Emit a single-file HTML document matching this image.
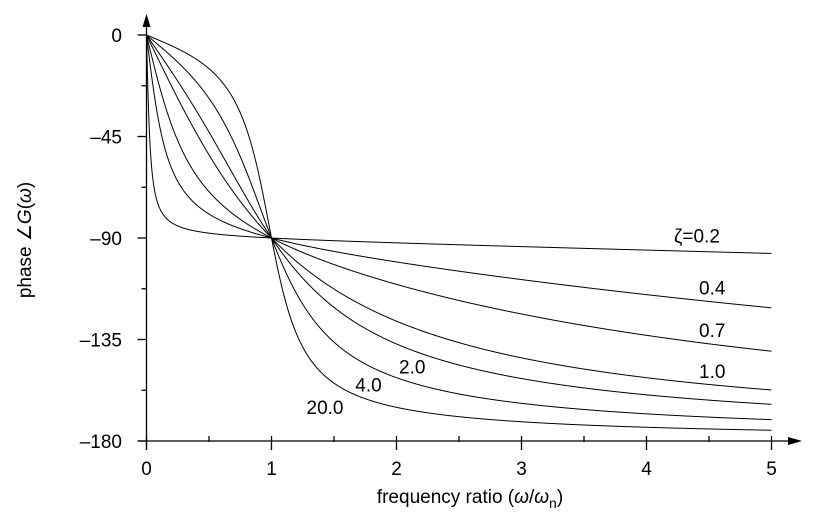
<!DOCTYPE html>
<html><head><meta charset="utf-8"><style>
body{margin:0;background:#fff}
svg text{font-family:"Liberation Sans",sans-serif;font-size:19px;fill:#000}
</style></head><body>
<svg id="chart" width="825" height="521" viewBox="0 0 825 521">
<g id="axes"></g>
<g id="curves"></g>
<g id="labels"></g>
<text x="470" y="503" text-anchor="middle">frequency ratio (<tspan font-style="italic">ω</tspan>/<tspan font-style="italic">ω</tspan><tspan font-size="14" dy="5">n</tspan><tspan dy="-5">)</tspan></text>
<text transform="translate(31,240) rotate(-90)" text-anchor="middle">phase ∠<tspan font-style="italic">G</tspan>(<tspan font-style="italic">ω</tspan>)</text>
</svg>
<script>
const zetas=[0.2,0.4,0.7,1.0,2.0,4.0,20.0];
const labelTexts=["ζ=0.2","0.4","0.7","1.0","2.0","4.0","20.0"];
const labelRatios=[4.22,4.42,4.42,4.42,2.02,1.67,1.28];
const labelPhases=[-92,-115,-134,-152,-150,-158,-168];
const xTicks=[0,1,2,3,4,5];
const yTicks=[0,-45,-90,-135,-180];
const NS="http://www.w3.org/2000/svg";
const X0=146.5,XS=125,Y0=35,YS=(441-35)/180;
const sx=v=>X0+v*XS, sy=v=>Y0-v*YS;
function el(t,a,p){const e=document.createElementNS(NS,t);for(const k in a)e.setAttribute(k,a[k]);p.appendChild(e);return e;}
const ax=document.getElementById('axes');
const xa=el('line',{x1:sx(0)-8,y1:sy(-180),x2:790,y2:sy(-180),stroke:'#000','stroke-width':1.3},ax);


const ya=el('line',{x1:sx(0),y1:450,x2:sx(0),y2:25,stroke:'#000','stroke-width':1.3},ax);


el('polygon',{points:`${sx(0)-4},27 ${sx(0)+4},27 ${sx(0)},14`,fill:'#000'},ax);
el('polygon',{points:`788,${sy(-180)-4} 788,${sy(-180)+4} 802,${sy(-180)}`,fill:'#000'},ax);
xTicks.forEach(v=>{
 el('line',{x1:sx(v),y1:sy(-180)-5,x2:sx(v),y2:sy(-180)+9,stroke:'#000','stroke-width':1.3},ax);
 if(v<5)el('line',{x1:sx(v+0.5),y1:sy(-180)-5,x2:sx(v+0.5),y2:sy(-180)+1,stroke:'#000','stroke-width':1.3},ax);
 const t=el('text',{x:sx(v),y:475,'text-anchor':'middle'},ax);t.textContent=v;
 
 
});
yTicks.forEach(v=>{
 el('line',{x1:sx(0)-9,y1:sy(v),x2:sx(0),y2:sy(v),stroke:'#000','stroke-width':1.3},ax);
 if(v>-180)el('line',{x1:sx(0)-5,y1:sy(v-22.5),x2:sx(0),y2:sy(v-22.5),stroke:'#000','stroke-width':1.3},ax);
 const t=el('text',{x:122,y:sy(v)+7,'text-anchor':'end'},ax);t.textContent=v===0?'0':'–'+(-v);
 
 
});
const cg=document.getElementById('curves');
zetas.forEach((z,i)=>{
 let d='';
 for(let k=0;k<=2000;k++){const r=5*Math.pow(k/2000,1.5);
  const ph=-Math.atan2(2*z*r,1-r*r)*180/Math.PI;
  d+=(k?'L':'M')+sx(r).toFixed(2)+','+sy(ph).toFixed(2);}
 const p=el('path',{d:d,fill:'none',stroke:'#000','stroke-width':1},cg);
 
 
});
const lg=document.getElementById('labels');
labelTexts.forEach((s,i)=>{
 const t=el('text',{x:sx(labelRatios[i]),y:sy(labelPhases[i])},lg);t.textContent=s;
 
 
});
</script>
</body></html>
